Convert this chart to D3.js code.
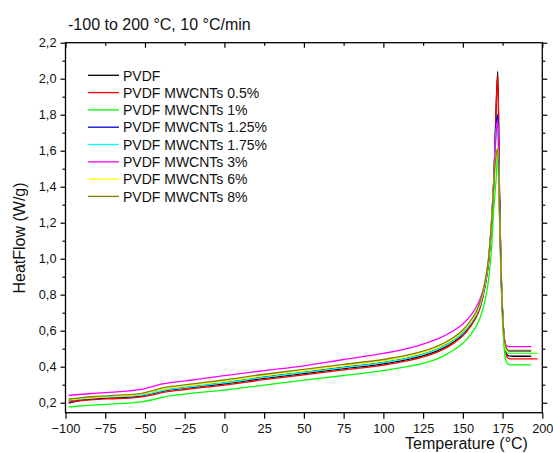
<!DOCTYPE html>
<html>
<head>
<meta charset="utf-8">
<script src="https://cdn.jsdelivr.net/npm/d3@7"></script>
<style>
  html, body { margin: 0; padding: 0; background: #fff; }
  svg { display: block; font-family: "Liberation Sans", Arial, sans-serif; }
</style>
</head>
<body>
<svg id="chart" width="553" height="453"></svg>
<script>
// DSC heating scans, -100 to 200 °C at 10 °C/min
const temperature = [-98, -90, -80, -70, -60, -52, -46, -40, -30, -20, 0, 25, 50, 75, 100, 115, 125, 135, 145, 150, 155, 158, 161, 164, 166, 168, 169.5, 171, 172, 173, 174, 175, 176, 177, 178, 179, 181, 185, 190, 193, 197];

const pvdf      = [0.197, 0.214, 0.222, 0.227, 0.231, 0.238, 0.249, 0.262, 0.275, 0.285, 0.305, 0.335, 0.362, 0.389, 0.416, 0.439, 0.461, 0.492, 0.543, 0.579, 0.633, 0.676, 0.738, 0.853, 0.970, 1.180, 1.430, 1.860, 2.040, 1.420, 0.960, 0.710, 0.560, 0.490, 0.465, 0.460, 0.458, 0.458, 0.458, 0.458, null];
const cnt05     = [0.203, 0.212, 0.218, 0.222, 0.226, 0.232, 0.242, 0.255, 0.268, 0.278, 0.298, 0.328, 0.355, 0.382, 0.409, 0.432, 0.454, 0.485, 0.535, 0.571, 0.625, 0.668, 0.730, 0.845, 0.960, 1.170, 1.420, 1.850, 2.020, 1.400, 0.950, 0.700, 0.550, 0.480, 0.452, 0.445, 0.443, 0.443, 0.443, 0.443, 0.443];
const cnt1      = [0.176, 0.182, 0.188, 0.193, 0.198, 0.205, 0.215, 0.228, 0.243, 0.253, 0.270, 0.298, 0.325, 0.351, 0.378, 0.400, 0.419, 0.448, 0.497, 0.530, 0.580, 0.620, 0.675, 0.770, 0.870, 1.050, 1.280, 1.450, 1.600, 1.250, 0.900, 0.650, 0.500, 0.440, 0.418, 0.412, 0.410, 0.410, 0.410, 0.410, null];
const cnt125    = [0.212, 0.220, 0.227, 0.231, 0.235, 0.241, 0.252, 0.266, 0.280, 0.290, 0.311, 0.343, 0.370, 0.397, 0.424, 0.448, 0.470, 0.502, 0.552, 0.588, 0.642, 0.685, 0.748, 0.862, 0.978, 1.190, 1.440, 1.750, 1.800, 1.350, 0.950, 0.700, 0.560, 0.505, 0.487, 0.482, 0.482, 0.482, 0.482, 0.482, null];
const cnt175    = [0.223, 0.222, 0.228, 0.232, 0.236, 0.242, 0.252, 0.265, 0.279, 0.289, 0.310, 0.341, 0.368, 0.395, 0.422, 0.446, 0.468, 0.500, 0.550, 0.586, 0.640, 0.683, 0.745, 0.860, 0.975, 1.185, 1.440, 1.720, 1.760, 1.320, 0.940, 0.690, 0.550, 0.495, 0.478, 0.474, 0.474, 0.474, 0.474, 0.474, 0.474];
const cnt3      = [0.240, 0.247, 0.253, 0.259, 0.266, 0.274, 0.288, 0.303, 0.316, 0.326, 0.350, 0.378, 0.405, 0.440, 0.474, 0.500, 0.526, 0.557, 0.605, 0.637, 0.685, 0.725, 0.780, 0.870, 0.980, 1.200, 1.450, 1.700, 1.770, 1.300, 0.920, 0.700, 0.570, 0.525, 0.513, 0.511, 0.511, 0.511, 0.511, 0.511, null];
const cnt6      = [0.215, 0.223, 0.230, 0.235, 0.240, 0.247, 0.259, 0.273, 0.287, 0.297, 0.318, 0.350, 0.377, 0.405, 0.432, 0.456, 0.478, 0.510, 0.560, 0.596, 0.650, 0.692, 0.755, 0.870, 0.985, 1.190, 1.420, 1.580, 1.620, 1.300, 0.950, 0.700, 0.550, 0.500, 0.485, 0.480, 0.480, 0.480, 0.480, 0.480, 0.480];
const cnt8      = [0.219, 0.228, 0.235, 0.240, 0.245, 0.252, 0.265, 0.280, 0.294, 0.304, 0.326, 0.358, 0.385, 0.413, 0.440, 0.464, 0.486, 0.518, 0.568, 0.604, 0.658, 0.700, 0.762, 0.875, 0.990, 1.200, 1.420, 1.580, 1.610, 1.300, 0.950, 0.700, 0.560, 0.510, 0.495, 0.491, 0.491, 0.491, 0.491, 0.491, null];

const seriesNames  = ["PVDF", "PVDF MWCNTs 0.5%", "PVDF MWCNTs 1%", "PVDF MWCNTs 1.25%", "PVDF MWCNTs 1.75%", "PVDF MWCNTs 3%", "PVDF MWCNTs 6%", "PVDF MWCNTs 8%"];
const seriesValues = [pvdf, cnt05, cnt1, cnt125, cnt175, cnt3, cnt6, cnt8];
const seriesColors = ["#000000", "#ff0000", "#00ff00", "#0000cc", "#00ffff", "#ff00ff", "#ffff00", "#808000"];

const xTicks = [-100, -75, -50, -25, 0, 25, 50, 75, 100, 125, 150, 175, 200];
const yTicks = [0.2, 0.4, 0.6, 0.8, 1.0, 1.2, 1.4, 1.6, 1.8, 2.0, 2.2];
const yMinor = [0.3, 0.5, 0.7, 0.9, 1.1, 1.3, 1.5, 1.7, 1.9, 2.1];

const titleText = "-100 to 200 °C, 10 °C/min";
const xTitle = "Temperature (°C)";
const yTitle = "HeatFlow (W/g)";

const svg = d3.select("#chart");
const plot = { left: 65.5, right: 542.3, top: 42.7, bottom: 412.7 };

const x = d3.scaleLinear().domain([-100, 200]).range([plot.left, plot.right]);
const y = d3.scaleLinear().domain([0.1444, 2.2]).range([plot.bottom, plot.top]);

const comma = v => d3.format(".1f")(v).replace(".", ",");
const fontAxis = "12.8px";

// Bottom axis: ticks outward
const bottom = svg.append("g")
  .attr("transform", `translate(0,${plot.bottom})`)
  .call(d3.axisBottom(x).tickValues(xTicks).tickSize(6).tickSizeOuter(0).tickFormat(d3.format("d")).tickPadding(5));
// Top axis: ticks inward, long every 50 and short between
svg.append("g")
  .attr("transform", `translate(0,${plot.top})`)
  .call(d3.axisTop(x).tickValues(xTicks.filter(t => t % 50 === 0)).tickSize(-5).tickSizeOuter(0).tickFormat(""));
svg.append("g")
  .attr("transform", `translate(0,${plot.top})`)
  .call(d3.axisTop(x).tickValues(xTicks.filter(t => t % 50 !== 0)).tickSize(-3).tickSizeOuter(0).tickFormat(""));
// Left axis: ticks outward
const left = svg.append("g")
  .attr("transform", `translate(${plot.left},0)`)
  .call(d3.axisLeft(y).tickValues(yTicks).tickSize(5).tickSizeOuter(0).tickFormat(comma).tickPadding(4));
svg.append("g")
  .attr("transform", `translate(${plot.left},0)`)
  .call(d3.axisLeft(y).tickValues(yMinor).tickSize(3).tickSizeOuter(0).tickFormat(""));
// Right axis: ticks outward
svg.append("g")
  .attr("transform", `translate(${plot.right},0)`)
  .call(d3.axisRight(y).tickValues(yTicks).tickSize(5).tickSizeOuter(0).tickFormat(""));
svg.append("g")
  .attr("transform", `translate(${plot.right},0)`)
  .call(d3.axisRight(y).tickValues(yMinor).tickSize(3).tickSizeOuter(0).tickFormat(""));

svg.selectAll(".domain").remove();
svg.selectAll(".tick line").attr("stroke", "#000").attr("stroke-width", 1.2);
svg.selectAll(".tick text").attr("fill", "#111").style("font-size", fontAxis).style("font-family", "'Liberation Sans', Arial, sans-serif");

// Curves
const line = d3.line()
  .defined(d => d[1] !== null)
  .x(d => x(d[0]))
  .y(d => y(d[1]))
  .curve(d3.curveMonotoneX);

const clip = svg.append("clipPath").attr("id", "plotclip")
  .append("rect").attr("x", plot.left).attr("y", plot.top)
  .attr("width", plot.right - plot.left).attr("height", plot.bottom - plot.top);

const curves = svg.append("g").attr("clip-path", "url(#plotclip)");
seriesValues.forEach((vals, i) => {
  curves.append("path")
    .datum(temperature.map((t, j) => [t, vals[j]]))
    .attr("fill", "none")
    .attr("stroke", seriesColors[i])
    .attr("stroke-width", 1.3)
    .attr("stroke-linejoin", "round")
    .attr("d", line);
});

// Frame
svg.append("rect")
  .attr("x", plot.left).attr("y", plot.top)
  .attr("width", plot.right - plot.left).attr("height", plot.bottom - plot.top)
  .attr("fill", "none").attr("stroke", "#000").attr("stroke-width", 1.3);

// Legend
const legend = svg.append("g");
seriesNames.forEach((name, i) => {
  const ly = 75.3 + i * 17.3;
  legend.append("line")
    .attr("x1", 88).attr("x2", 119).attr("y1", ly).attr("y2", ly)
    .attr("stroke", seriesColors[i]).attr("stroke-width", 1.3);
  legend.append("text")
    .attr("x", 123).attr("y", ly + 5.2)
    .attr("fill", "#111")
    .style("font-size", "14px")
    .text(name);
});

// Titles
svg.append("text")
  .attr("x", 68).attr("y", 30)
  .attr("fill", "#111")
  .style("font-size", "16px")
  .text(titleText);

svg.append("text")
  .attr("x", 466.5).attr("y", 449)
  .attr("text-anchor", "middle")
  .attr("fill", "#111")
  .style("font-size", "16px")
  .text(xTitle);

svg.append("text")
  .attr("transform", "translate(24.5,238) rotate(-90)")
  .attr("text-anchor", "middle")
  .attr("fill", "#111")
  .style("font-size", "16px")
  .text(yTitle);
</script>
</body>
</html>
